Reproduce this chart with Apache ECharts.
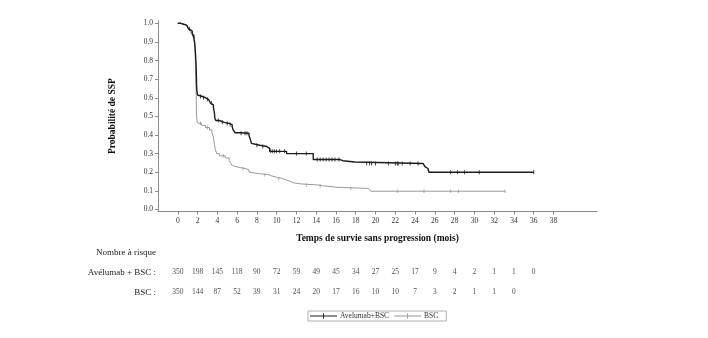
<!DOCTYPE html>
<html>
<head>
<meta charset="utf-8">
<script src="https://cdn.jsdelivr.net/npm/echarts@6/dist/echarts.min.js"></script>
<style>
  html, body { margin: 0; padding: 0; background: #fff; }
  #chart { width: 708px; height: 338px; }
</style>
</head>
<body>
<div id="chart"></div>
<script>
// Kaplan-Meier steps: [month, survival probability from that month on]
const avelumabSteps = [
  [0, 1.0], [0.3, 0.995], [0.6, 0.99], [0.9, 0.98], [1.1, 0.97], [1.3, 0.96], [1.45, 0.945],
  [1.6, 0.93], [1.7, 0.9], [1.75, 0.87], [1.8, 0.83], [1.85, 0.78], [1.88, 0.72], [1.9, 0.67],
  [1.93, 0.64], [2.0, 0.615], [2.2, 0.607], [2.5, 0.6], [2.8, 0.592], [3.1, 0.582], [3.3, 0.572],
  [3.5, 0.562], [3.6, 0.55], [3.7, 0.52], [3.75, 0.49], [3.85, 0.478], [4.2, 0.468], [4.7, 0.462],
  [5.2, 0.456], [5.5, 0.445], [5.6, 0.427], [5.8, 0.412], [6.4, 0.409], [7.2, 0.398], [7.3, 0.383],
  [7.45, 0.355], [7.6, 0.345], [8.3, 0.338], [9.0, 0.328], [9.3, 0.312], [11.0, 0.3], [13.7, 0.268],
  [16.4, 0.262], [16.7, 0.255], [17.9, 0.247], [24.8, 0.24], [25.0, 0.23], [25.1, 0.22],
  [25.3, 0.21], [25.4, 0.2], [36.0, 0.2]
];
const bscSteps = [
  [0, 1.0], [0.3, 0.995], [0.6, 0.99], [0.9, 0.98], [1.1, 0.965], [1.3, 0.955], [1.45, 0.94],
  [1.6, 0.92], [1.7, 0.89], [1.75, 0.85], [1.8, 0.78], [1.83, 0.7], [1.86, 0.62], [1.88, 0.55],
  [1.9, 0.5], [1.95, 0.475], [2.05, 0.463], [2.4, 0.452], [2.8, 0.44], [3.2, 0.428], [3.45, 0.413],
  [3.6, 0.39], [3.7, 0.35], [3.8, 0.32], [3.95, 0.3], [4.2, 0.288], [4.8, 0.277], [5.2, 0.262],
  [5.35, 0.248], [5.5, 0.236], [5.65, 0.226], [6.2, 0.219], [6.9, 0.212], [7.2, 0.2], [7.4, 0.192],
  [8.3, 0.187], [9.2, 0.18], [9.5, 0.173], [10.0, 0.166], [10.6, 0.158], [11.0, 0.15], [11.4, 0.143],
  [11.7, 0.137], [12.5, 0.132], [14.1, 0.127], [14.7, 0.123], [15.5, 0.119], [16.1, 0.113],
  [19.3, 0.105], [19.5, 0.098], [33.1, 0.098]
];

// Censoring times (months)
const avelumabCensored = [
  1.2, 1.5, 1.65, 2.3, 2.6, 3.0, 3.4, 4.1, 4.5, 5.0, 5.3, 6.4, 6.8, 7.0, 8.0, 8.6, 9.4, 9.6,
  9.8, 10.0, 10.3, 10.8, 12.0, 13.0, 14.1, 14.4, 14.7, 15.0, 15.3, 15.6, 15.9, 16.3, 19.1, 19.4,
  19.6, 20.0, 21.3, 22.0, 22.2, 22.3, 22.7, 23.5, 24.3, 27.6, 28.3, 29.0, 30.5, 36.0
];
const bscCensored = [1.3, 2.3, 3.0, 4.6, 6.6, 8.8, 10.2, 13.0, 14.4, 17.5, 22.2, 24.9, 27.6, 28.4, 33.1];

// Number at risk table
const riskTimes = [0, 2, 4, 6, 8, 10, 12, 14, 16, 18, 20, 22, 24, 26, 28, 30, 32, 34, 36];
const avelumabAtRisk = [350, 198, 145, 118, 90, 72, 59, 49, 45, 34, 27, 25, 17, 9, 4, 2, 1, 1, 0];
const bscAtRisk = [350, 144, 87, 52, 39, 31, 24, 20, 17, 16, 10, 10, 7, 3, 2, 1, 1, 0];
const riskRows = ['Avélumab + BSC', 'BSC'];

// Axis ticks
const xTicks = [0, 2, 4, 6, 8, 10, 12, 14, 16, 18, 20, 22, 24, 26, 28, 30, 32, 34, 36, 38];
const yTicks = [0, 0.1, 0.2, 0.3, 0.4, 0.5, 0.6, 0.7, 0.8, 0.9, 1.0];

const seriesNames = ['Avelumab+BSC', 'BSC'];
const FONT = '"Liberation Serif", "DejaVu Serif", serif';
const BLACK = '#1c1c1c';
const GREY = '#9a9a9a';

function survivalAt(steps, t) {
  let v = steps[0][1];
  for (const [time, s] of steps) { if (time <= t) v = s; else break; }
  return v;
}

const X_MIN = -2, X_MAX = 42.4;
const GRID_LEFT = 158, GRID_RIGHT = 111;

const legendIcon = 'path://M0,4.5 H30 V5.5 H0 Z M14.5,2 H15.5 V8 H14.5 Z';

const chart = echarts.init(document.getElementById('chart'), null, { renderer: 'canvas' });

chart.setOption({
  backgroundColor: '#fff',
  animation: false,
  textStyle: { fontFamily: FONT },
  grid: [
    { left: GRID_LEFT, right: GRID_RIGHT, top: 20.7, height: 190.8 },
    { left: GRID_LEFT, right: GRID_RIGHT, top: 262.6, height: 39.6 }
  ],
  xAxis: [
    {
      type: 'value', gridIndex: 0, min: X_MIN, max: X_MAX,
      name: 'Temps de survie sans progression (mois)',
      nameLocation: 'middle', nameGap: 22,
      nameTextStyle: { fontFamily: FONT, fontWeight: 'bold', fontSize: 9.5, color: '#111' },
      axisLine: { show: true, onZero: false, lineStyle: { color: '#8c8c8c', width: 1 } },
      axisTick: { show: true, length: 3, customValues: xTicks, lineStyle: { color: '#8c8c8c' } },
      axisLabel: { customValues: xTicks, fontSize: 7.5, color: '#333', margin: 6, fontFamily: FONT },
      splitLine: { show: false }
    },
    {
      type: 'value', gridIndex: 1, min: X_MIN, max: X_MAX, show: false
    }
  ],
  yAxis: [
    {
      type: 'value', gridIndex: 0, min: -0.011, max: 1.014,
      name: 'Probabilité de SSP',
      nameLocation: 'middle', nameGap: 40,
      nameTextStyle: { fontFamily: FONT, fontWeight: 'bold', fontSize: 9.5, color: '#111' },
      axisLine: { show: true, onZero: false, lineStyle: { color: '#8c8c8c', width: 1 } },
      axisTick: { show: true, length: 3, customValues: yTicks, lineStyle: { color: '#8c8c8c' } },
      axisLabel: {
        customValues: yTicks, fontSize: 7.5, color: '#333', margin: 5, fontFamily: FONT,
        formatter: v => v.toFixed(1)
      },
      splitLine: { show: false }
    },
    {
      type: 'category', gridIndex: 1, data: riskRows, inverse: true,
      axisLine: { show: false }, axisTick: { show: false }, splitLine: { show: false },
      axisLabel: { fontSize: 9, color: '#222', margin: 2, fontFamily: FONT, formatter: v => v + ' :' }
    }
  ],
  legend: {
    data: seriesNames.map((n, i) => ({ name: n, icon: legendIcon, itemStyle: { color: i === 0 ? BLACK : GREY } })),
    left: 308, top: 311,
    itemWidth: 27, itemHeight: 7, itemGap: 5,
    padding: [1, 8, 1, 2],
    borderColor: '#b0b0b0', borderWidth: 1,
    selectedMode: false,
    textStyle: { fontSize: 7.5, color: '#333', fontFamily: FONT, padding: [0, 0, 0, -2] }
  },
  graphic: [
    {
      type: 'text', x: 156, y: 253,
      style: { text: 'Nombre à risque', align: 'right', verticalAlign: 'middle', font: '9px ' + FONT, fill: '#222' }
    }
  ],
  series: [
    {
      name: seriesNames[0], type: 'line', step: 'end', xAxisIndex: 0, yAxisIndex: 0,
      data: avelumabSteps, showSymbol: false, symbol: 'none',
      lineStyle: { color: BLACK, width: 1.4 }, itemStyle: { color: BLACK }, z: 3
    },
    {
      name: seriesNames[1], type: 'line', step: 'end', xAxisIndex: 0, yAxisIndex: 0,
      data: bscSteps, showSymbol: false, symbol: 'none',
      lineStyle: { color: GREY, width: 1 }, itemStyle: { color: GREY }, z: 2
    },
    {
      name: 'avelumab-censor', type: 'scatter', xAxisIndex: 0, yAxisIndex: 0,
      data: avelumabCensored.map(t => [t, survivalAt(avelumabSteps, t)]),
      symbol: 'rect', symbolSize: [1, 4], itemStyle: { color: BLACK }, z: 4
    },
    {
      name: 'bsc-censor', type: 'scatter', xAxisIndex: 0, yAxisIndex: 0,
      data: bscCensored.map(t => [t, survivalAt(bscSteps, t)]),
      symbol: 'rect', symbolSize: [1, 3.5], itemStyle: { color: GREY }, z: 2
    },
    {
      name: 'risk-avelumab', type: 'scatter', xAxisIndex: 1, yAxisIndex: 1,
      data: avelumabAtRisk.map((n, i) => [riskTimes[i], 0, n]),
      symbolSize: 0,
      label: { show: true, position: 'inside', formatter: p => p.value[2], fontSize: 7.5, color: '#222', fontFamily: FONT }
    },
    {
      name: 'risk-bsc', type: 'scatter', xAxisIndex: 1, yAxisIndex: 1,
      data: bscAtRisk.map((n, i) => [riskTimes[i], 1, n]),
      symbolSize: 0,
      label: { show: true, position: 'inside', formatter: p => p.value[2], fontSize: 7.5, color: '#222', fontFamily: FONT }
    }
  ]
});
</script>
</body>
</html>
